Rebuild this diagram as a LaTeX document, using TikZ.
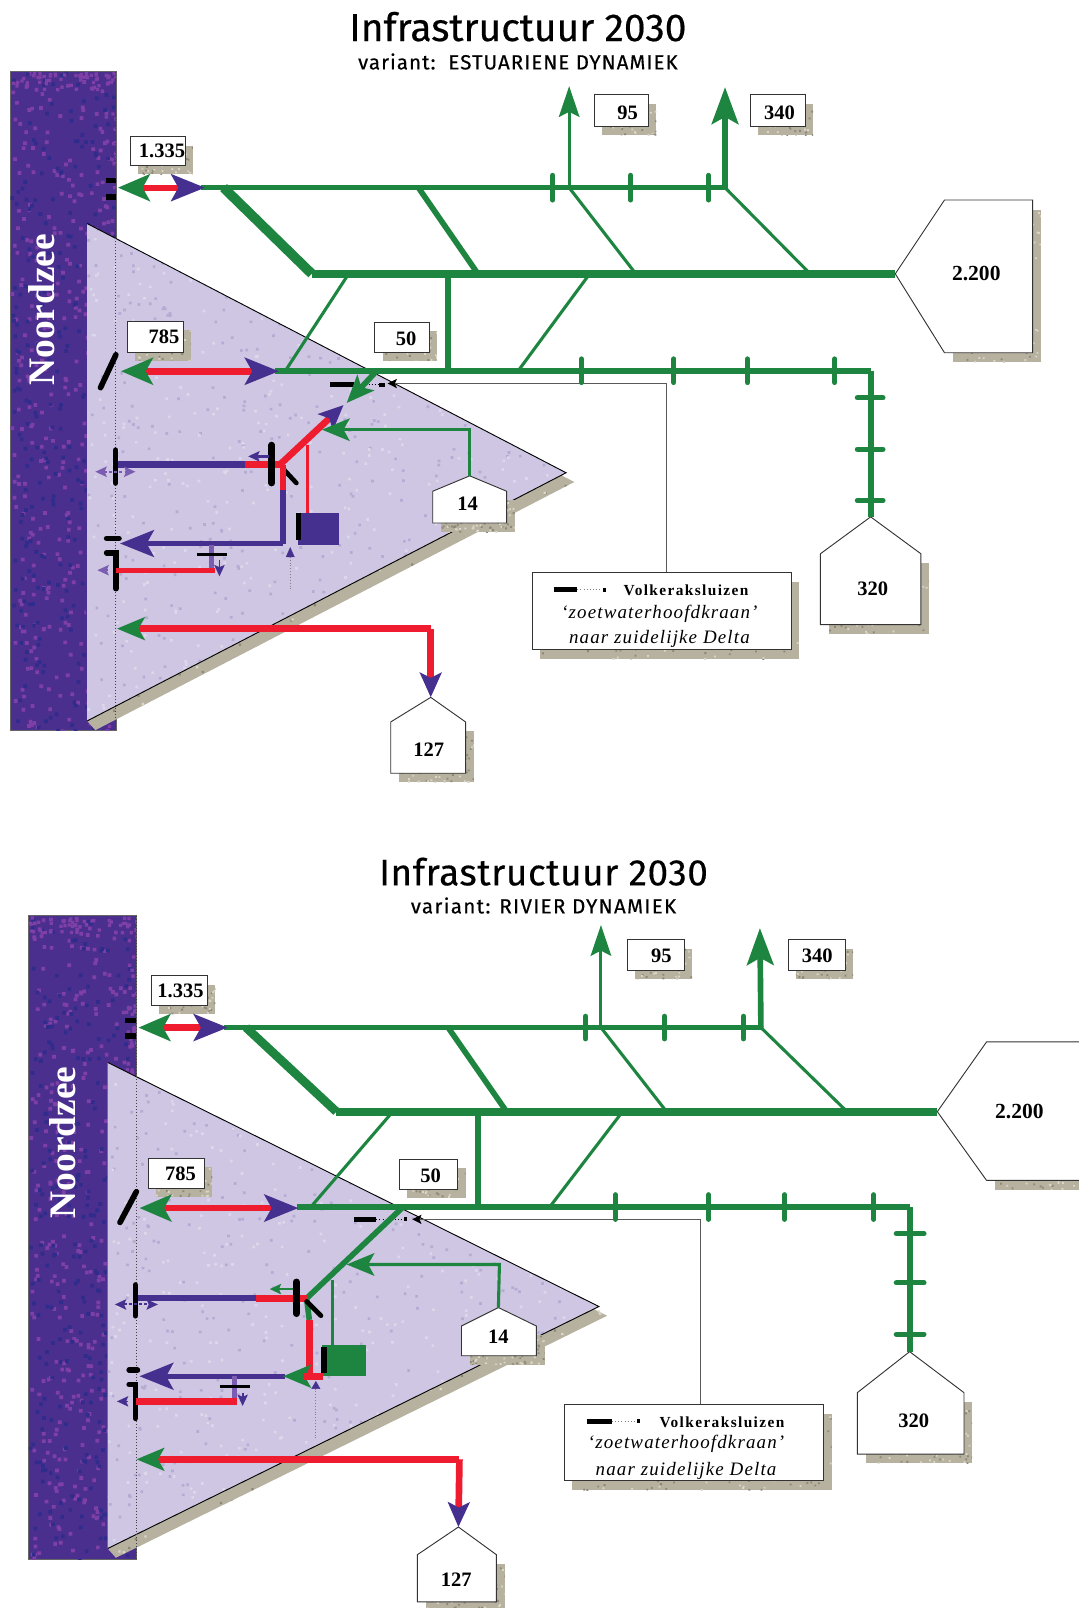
\documentclass[tikz,border=0pt]{standalone}
\usepackage{fontspec}
\setmainfont{Liberation Serif}
\newfontfamily\titlefont[FakeBold=0.35]{Fira Sans}
\usetikzlibrary{arrows.meta}
\definecolor{sg}{HTML}{1E8540}
\definecolor{sr}{HTML}{EE1C2E}
\definecolor{sb}{HTML}{46308F}
\definecolor{sl}{HTML}{7A5CB0}
\definecolor{seac}{HTML}{4B2F8E}
\definecolor{seap}{HTML}{7E3FA6}
\definecolor{sead}{HTML}{2F2C8C}
\definecolor{tri}{HTML}{CEC6E2}
\definecolor{trid}{HTML}{B5ACD4}
\definecolor{tril}{HTML}{DDD7EC}
\definecolor{shad}{HTML}{B7B1A0}
\definecolor{shadd}{HTML}{8D8876}
\definecolor{shadl}{HTML}{DAD6C8}
\tikzset{
 seabox/.style={fill=seac,draw=black!60,line width=.7pt},
 trifill/.style={fill=tri},
 triedge/.style={draw=black,line width=.9pt,line join=miter},
 shadowfill/.style={fill=shad},
 whitebox/.style={fill=white,draw=black!80,line width=.9pt,line join=miter},
 dotline/.style={draw=black!75,line width=.9pt,dotted},
 leader/.style={draw=black!65,line width=1pt},
 gxl/.style={draw=sg,line width=9.5pt},
 gl/.style={draw=sg,line width=7.5pt},
 gm/.style={draw=sg,line width=5.5pt},
 gs/.style={draw=sg,line width=3pt},
 tick/.style={draw=sg,line width=5pt,line cap=round},
 rl/.style={draw=sr,line width=6.5pt},
 rs/.style={draw=sr,line width=2.8pt},
 bl/.style={draw=sb,line width=6pt},
 bm/.style={draw=sb,line width=5pt},
 lp/.style={draw=sl,line width=5pt},
 gate/.style={draw=black,line width=5.5pt,line cap=round},
 gatethin/.style={draw=black,line width=2.8pt},
 val/.style={font=\bfseries\fontsize{20}{20}\selectfont,inner sep=0pt},
 lega/.style={font=\bfseries\fontsize{15}{15}\selectfont\addfontfeatures{LetterSpace=9},inner sep=0pt},
 legb/.style={font=\itshape\fontsize{18.5}{18.5}\selectfont\addfontfeatures{LetterSpace=6},inner sep=0pt},
 sea/.style={font=\bfseries\fontsize{36.5}{36.5}\selectfont,text=white,rotate=90,inner sep=0pt},
 ttl/.style={font=\titlefont\fontsize{38}{38}\selectfont,inner sep=0pt},
 sub/.style={font=\titlefont\fontsize{20}{20}\selectfont\addfontfeatures{LetterSpace=5},inner sep=0pt},
 GH/.tip={Stealth[length=31pt,width=26pt,inset=7pt,color=sg]},
 BH/.tip={Stealth[length=33pt,width=26pt,inset=7pt,color=sb]},
 GM/.tip={Stealth[length=27pt,width=22pt,inset=6pt,color=sg]},
 BM/.tip={Stealth[length=24pt,width=21pt,inset=5pt,color=sb]},
 UPS/.tip={Stealth[length=30pt,width=20pt,inset=5pt,color=sg]},
 UPL/.tip={Stealth[length=36pt,width=26pt,inset=7pt,color=sg]},
 SB/.tip={Stealth[length=11pt,width=10pt,inset=2pt,color=sb]},
 SL/.tip={Stealth[length=11pt,width=10pt,inset=2pt,color=sl]},
 SG/.tip={Stealth[length=11pt,width=10pt,inset=2pt,color=sg]},
 SK/.tip={Stealth[length=9pt,width=9pt,inset=2pt,color=black]},
}
% grain on the current clip: x1,y1,width,height,batches of 25 dots,colour,size
\newcommand{\grain}[7]{%
 \foreach \i in {1,...,#5}{\fill[#6] \foreach \j in {1,...,25}{({#1+rnd*(#3)},{#2+rnd*(#4)}) rectangle ++(#7,#7)};}
}
% grey shadow block with grain: x1,y1,x2,y2,batches
\newcommand{\shadblock}[5]{%
 \fill[shadowfill] (#1,#2) rectangle (#3,#4);
 \begin{scope}
 \clip (#1,#2) rectangle (#3,#4);
 \grain{#1}{#2}{(#3)-(#1)}{(#4)-(#2)}{#5}{shadd}{1.8}
 \grain{#1}{#2}{(#3)-(#1)}{(#4)-(#2)}{#5}{shadl}{1.8}
 \end{scope}
}
% value box: name, x1,y1,x2,y2
\newcommand{\valbox}[5]{%
 \shadblock{#2+8}{#3+9}{#4+8}{#5+9}{1}
 \node[whitebox,minimum width=#4pt-#2pt,minimum height=#5pt-#3pt,inner sep=0pt,anchor=north west] (#1) at (#2,#3) {};
}
% pentagon: name, apex x, apex y, xl, xr, yshoulder, ybottom
\newcommand{\pent}[7]{%
 \shadblock{#4+8}{#6+9}{#5+8}{#7+9}{2}
 \draw[whitebox] (#2,#3) -- (#5,#6) -- (#5,#7) -- (#4,#7) -- (#4,#6) -- cycle;
 \coordinate (#1) at (#2,#3);
}
% sea band: x1,y1,x2,y2
\newcommand{\seaband}[4]{%
 \draw[seabox] (#1,#2) rectangle (#3,#4);
 \begin{scope}
 \clip (#1,#2) rectangle (#3,#4);
 \grain{#1}{#2}{#3-#1}{#4-#2}{14}{seap}{3.6}
 \grain{#1}{#2}{#3-#1}{#4-#2}{11}{sead}{3.6}
 \grain{#3-12}{#2}{12}{#4-#2}{4}{seap}{3.2}
 \grain{#1}{#2}{#3-#1}{16}{2}{seap}{3.2}
 \end{scope}
}
% triangle with its shadow: ax,ay,tx,ty,bx,by
\newcommand{\deltaland}[6]{%
 \fill[shadowfill] (#1+8,#2+9) -- (#3+8,#4+9) -- (#5+8,#6+9) -- (#5,#6) -- (#3,#4) -- cycle;
 \begin{scope}
 \clip (#3,#4) -- (#3+8,#4+9) -- (#5+8,#6+9) -- (#5,#6) -- cycle;
 \grain{#5}{#4}{#3-#5+8}{#6-#4+9}{8}{shadd}{2.2}
 \grain{#5}{#4}{#3-#5+8}{#6-#4+9}{8}{shadl}{2.2}
 \end{scope}
 \fill[trifill] (#1,#2) -- (#3,#4) -- (#5,#6) -- cycle;
 \begin{scope}
 \clip (#1,#2) -- (#3,#4) -- (#5,#6) -- cycle;
 \grain{#1}{#2}{#3-#1}{#6-#2}{16}{trid}{2.6}
 \grain{#1}{#2}{#3-#1}{#6-#2}{16}{tril}{2.6}
 \end{scope}
 \draw[triedge] (#1,#2) -- (#3,#4) -- (#5,#6);
}
\begin{document}
\begin{tikzpicture}[x=1pt,y=-1pt]
\pgfmathsetseed{4242}
\useasboundingbox (0,0) rectangle (1052,1568);
\fill[white] (0,0) rectangle (1052,1568);

%% ===== TOP =====
\node[ttl] (at) at (505,26) {Infrastructuur 2030};
\node[sub] (as) at (505,60) {variant:\ \ ESTUARIENE DYNAMIEK};
\seaband{10}{70}{113}{712}
\deltaland{85}{218}{552}{461}{85}{703}
\draw[dotline] (113,70) -- (113,712);
\node[sea] (an) at (41,302) {Noordzee};

% coordinates
\coordinate (aL) at (115,183);
\coordinate (aR) at (200,183);
\coordinate (aT) at (707,183);
\coordinate (aT0) at (196,183);
\coordinate (aT1) at (218,183);
\coordinate (aT2) at (408,183);
\coordinate (aT3) at (555,183);
\coordinate (aM1) at (304,267);
\coordinate (aM2) at (466,267);
\coordinate (aM3) at (620,267);
\coordinate (aM4) at (790,267);
\coordinate (aM5) at (340,267);
\coordinate (aM6) at (575,267);
\coordinate (aM7) at (437,267);
\coordinate (aB0) at (268,362);
\coordinate (aB1) at (278,362);
\coordinate (aB2) at (505,362);
\coordinate (aB3) at (437,362);
\coordinate (aB4) at (367,362);
\coordinate (aB5) at (849,362);
\coordinate (aU1) at (555,84);
\coordinate (aU2) at (707,85);
\coordinate (aHL) at (118,362);
\coordinate (aHR) at (272,362);

% pentagons, hex and boxes
\shadblock{929}{205}{1015}{353}{3}
\draw[whitebox] (873,267) -- (921,195) -- (1007,195) -- (1007,344) -- (921,344) -- cycle;
\coordinate (aHex) at (873,267);
\node[val,font=\bfseries\fontsize{21}{21}\selectfont] (aHexT) at (952,267) {2.200};
\pent{aP320}{849}{504}{800}{898}{540}{609}
\node[val] (a320) at (851,574) {320};
\pent{aP14}{458}{464}{422}{494}{479}{510}
\node[val] (a14) at (456,491) {14};
\pent{aP127}{420}{680}{381}{454}{704}{754}
\node[val] (a127) at (418,731) {127};
\valbox{aB95}{579}{92}{632}{123}
\node[val] (a95) at (612,110) {95};
\valbox{aB340}{731}{92}{785}{123}
\node[val] (a340) at (760,110) {340};
\valbox{aB1335}{127}{133}{180}{161}
\node[val] (a1335) at (158,147) {1.335};
\valbox{aB785}{124}{313}{178}{343}
\node[val] (a785) at (160,328) {785};
\valbox{aB50}{365}{314}{418}{343}
\node[val] (a50) at (396,330) {50};

% legend
\coordinate (aLg) at (650,558);
\coordinate (aLc) at (650,374);
\coordinate (aLe) at (378,374);
\draw[leader,-{SK}] (aLg) -- (aLc) -- (aLe);
\shadblock{527}{568}{779}{643}{4}
\node[whitebox,minimum width=252pt,minimum height=75pt,inner sep=0pt,anchor=north west] (aLeg) at (519,558) {};
\draw[draw=black,line width=4.5pt] (540,575) -- (563,575);
\draw[draw=black!50,line width=1pt,dotted] (563,575) -- (587,575);
\draw[draw=black,line width=4pt] (588,575) -- (591,575);
\node[lega] (aV) at (669,576) {Volkeraksluizen};
\node[legb] (aZ) at (643,599) {‘zoetwaterhoofdkraan’};
\node[legb] (aD) at (643,623) {naar zuidelijke Delta};

% main network
\draw[gm] (aT0) -- (aT);
\draw[rl,line width=6pt,{GH}-{BH}] (aL) -- (aR);
\draw[gxl] (aT1) -- (aM1);
\draw[gm] (aT2) -- (aM2);
\draw[gs] (aT3) -- (aM3);
\draw[gs] (aT) -- (aM4);
\draw[gl] (aM1) -- (aHex);
\draw[gs] (aM5) -- (aB1);
\draw[gs] (aM6) -- (aB2);
\draw[gm] (aM7) -- (aB3);
\draw[gm] (aB0) -- (aB5);
\draw[gm,line width=6pt] (aB5) -- (aP320);
\draw[rl,{GH}-{BH}] (aHL) -- (aHR);
\draw[gs,-{UPS}] (aT3) -- (aU1);
\draw[gm,-{UPL}] (aT) -- (aU2);
% ticks
\foreach \x in {539,615,691}{\draw[tick] (\x,171) -- (\x,195);}
\foreach \x in {567,657,729,814}{\draw[tick] (\x,350) -- (\x,373);}
\foreach \y in {388,438,488}{\draw[tick] (836,\y) -- (861,\y);}
% gates at the sea
\draw[draw=black,line width=5.5pt] (103,176) -- (113,176);
\draw[draw=black,line width=5.5pt] (103,192) -- (113,192);
\draw[gate] (98,378) -- (113,346);

% inner network
\coordinate (aJ) at (273,453);
\coordinate (aV1) at (276,453);
\coordinate (aV2) at (276,478);
\coordinate (aV3) at (276,530);
\draw[draw=black,line width=4.5pt] (322,375) -- (345,375);
\draw[draw=black,line width=1pt,dotted] (345,375) -- (370,375);
\draw[draw=black,line width=4pt] (370,375) -- (375,375);
\draw[gm,-{GM}] (aB4) -- (338,393);
\draw[rl,-{BM}] (aJ) -- (335,395);
\coordinate (aGR) at (458,419);
\draw[gs,-{GM}] (aP14) -- (aGR) -- (314,419);
\draw[rs] (300,434) -- (300,501);
\draw[bl] (113,453) -- (239,453);
\draw[rl] (239,453) -- (aJ);
\draw[gate,line width=6.5pt] (265,434) -- (265,471);
\draw[draw=sb,line width=2.5pt,-{SB}] (262,445) -- (242,445);
\draw[gate,line width=4.5pt] (276,457) -- (289,471);
\draw[rl] (aV1) -- (aV2);
\draw[bl] (aV2) -- (aV3);
\fill[sb] (291,500) rectangle (331,531);
\draw[draw=black,line width=5.5pt] (291,500) -- (291,527);
\draw[bm,-{BH}] (aV3) -- (117,530);
\draw[sb,fill=sb] (279,543) -- (283,534) -- (287,543) -- cycle;
\draw[draw=black!50,line width=.8pt,dotted] (283,543) -- (283,575);
\draw[gate] (112.8,439) -- (112.8,471);
\draw[draw=sl,line width=2pt,densely dashed,{SL}-{SL}] (93,460) -- (132,460);
\draw[gate] (104,525) -- (116,525);
\draw[gate] (104,539) -- (113,539) -- (113,574);
\draw[lp] (206,531) -- (206,556);
\draw[rl,line width=5pt] (113,556) -- (210,556);
\draw[draw=sl,line width=1.6pt,-{SL}] (105,556) -- (95,556);
\draw[gatethin] (192,540.5) -- (221,540.5);
\draw[draw=sb,line width=1.8pt,-{SB}] (214,546) -- (214,562);
\coordinate (aC) at (420,613);
\draw[rl,-{GM}] (aC) -- (114,613);
\draw[rl,-{BM}] (aC) -- (aP127);

%% ===== BOTTOM =====
\node[ttl,font=\titlefont\fontsize{36}{36}\selectfont\addfontfeatures{LetterSpace=1.5}] (bt) at (530,850) {Infrastructuur 2030};
\node[sub,font=\titlefont\fontsize{20}{20}\selectfont\addfontfeatures{LetterSpace=6.5}] (bs) at (530,883) {variant: RIVIER DYNAMIEK};
\seaband{28}{893}{133}{1521}
\deltaland{105}{1036}{584}{1274}{105}{1510}
\draw[dotline] (133,893) -- (133,1521);
\node[sea] (bn) at (61,1114) {Noordzee};

\coordinate (bL) at (135,1002);
\coordinate (bR) at (222,1002);
\coordinate (bT) at (742,1002);
\coordinate (bT0) at (218,1002);
\coordinate (bT1) at (240,1002);
\coordinate (bT2) at (437,1002);
\coordinate (bT3) at (586,1002);
\coordinate (bM1) at (328,1084);
\coordinate (bM2) at (494,1084);
\coordinate (bM3) at (650,1084);
\coordinate (bM4) at (826,1084);
\coordinate (bM5) at (383,1084);
\coordinate (bM6) at (607,1084);
\coordinate (bM7) at (466,1084);
\coordinate (bB0) at (290,1177);
\coordinate (bB1) at (303,1177);
\coordinate (bB2) at (536,1177);
\coordinate (bB3) at (466,1177);
\coordinate (bB4) at (393,1177);
\coordinate (bB5) at (887,1177);
\coordinate (bU1) at (586,902);
\coordinate (bU2) at (741,905);
\coordinate (bHL) at (136,1178);
\coordinate (bHR) at (291,1178);

\shadblock{970}{1024}{1052}{1160}{3}
\fill[white] (962,1016) -- (914,1084) -- (962,1151) -- (1052,1151) -- (1052,1016) -- cycle;
\draw[whitebox,fill=none] (1053,1016) -- (962,1016) -- (914,1084) -- (962,1151) -- (1053,1151);
\coordinate (bHex) at (914,1084);
\node[val,font=\bfseries\fontsize{21}{21}\selectfont] (bHexT) at (994,1084) {2.200};
\pent{bP320}{887}{1318}{836}{940}{1358}{1418}
\node[val] (b320) at (891,1385) {320};
\pent{bP14}{486}{1275}{450}{523}{1293}{1322}
\node[val] (b14) at (486,1303) {14};
\pent{bP127}{447}{1489}{407}{484}{1516}{1562}
\node[val] (b127) at (445,1540) {127};
\valbox{bB95}{611}{916}{667}{946}
\node[val] (b95) at (645,932) {95};
\valbox{bB340}{768}{916}{824}{946}
\node[val] (b340) at (797,932) {340};
\valbox{bB1335}{147}{951}{202}{980}
\node[val] (b1335) at (176,966) {1.335};
\valbox{bB785}{144}{1129}{199}{1158}
\node[val] (b785) at (176,1145) {785};
\valbox{bB50}{389}{1130}{446}{1159}
\node[val] (b50) at (420,1147) {50};

\coordinate (bLg) at (683,1369);
\coordinate (bLc) at (683,1189);
\coordinate (bLe) at (402,1189);
\draw[leader,-{SK}] (bLg) -- (bLc) -- (bLe);
\shadblock{558}{1379}{811}{1453}{4}
\node[whitebox,minimum width=253pt,minimum height=74pt,inner sep=0pt,anchor=north west] (bLeg) at (550,1369) {};
\draw[draw=black,line width=4.5pt] (572,1386) -- (597,1386);
\draw[draw=black!50,line width=1pt,dotted] (597,1386) -- (620,1386);
\draw[draw=black,line width=4pt] (621,1386) -- (624,1386);
\node[lega] (bV) at (704,1387) {Volkeraksluizen};
\node[legb] (bZ) at (669,1408) {‘zoetwaterhoofdkraan’};
\node[legb] (bD) at (669,1434) {naar zuidelijke Delta};

\draw[gm] (bT0) -- (bT);
\draw[rl,line width=6pt,{GH}-{BH}] (bL) -- (bR);
\draw[gxl,line width=8.5pt] (bT1) -- (bM1);
\draw[gm] (bT2) -- (bM2);
\draw[gs] (bT3) -- (bM3);
\draw[gs] (bT) -- (bM4);
\draw[gl] (bM1) -- (bHex);
\draw[gs] (bM5) -- (bB1);
\draw[gs] (bM6) -- (bB2);
\draw[gm,line width=6pt] (bM7) -- (bB3);
\draw[gm,line width=6pt] (bB0) -- (bB5);
\draw[gm,line width=6pt] (bB5) -- (bP320);
\draw[rl,{GH}-{BH}] (bHL) -- (bHR);
\draw[gs,-{UPS}] (bT3) -- (bU1);
\draw[gm,-{UPL}] (bT) -- (bU2);
\foreach \x in {571,648,725}{\draw[tick] (\x,991) -- (\x,1013);}
\foreach \x in {600,691,765,852}{\draw[tick] (\x,1165) -- (\x,1189);}
\foreach \y in {1203,1251,1301}{\draw[tick] (874,\y) -- (901,\y);}
\draw[draw=black,line width=5.5pt] (122,995) -- (133,995);
\draw[draw=black,line width=5.5pt] (122,1010) -- (133,1010);
\draw[gate] (117,1192) -- (133,1162);

\coordinate (bJ) at (299,1266);
\coordinate (bV2) at (301.6,1287);
\coordinate (bV3) at (301.6,1342);
\draw[draw=black,line width=4.5pt] (345,1189) -- (367,1189);
\draw[draw=black,line width=1pt,dotted] (367,1189) -- (394,1189);
\draw[draw=black,line width=4pt] (394,1189) -- (397,1189);
\draw[gm] (bB4) -- (bJ) -- (bV2);
\coordinate (bGR) at (487,1233);
\draw[gs,-{GM}] (bP14) -- (bGR) -- (338,1233);
\draw[gs] (324,1248) -- (324,1312);
\draw[bl] (133,1266) -- (250,1266);
\draw[rl] (250,1266) -- (bJ);
\draw[gate,line width=6.5pt] (289,1250) -- (289,1281);
\draw[draw=sg,line width=2.5pt,-{SG}] (286,1257) -- (263,1257);
\draw[gate,line width=4.5pt] (299,1269) -- (313,1283);
\draw[rl] (bV2) -- (bV3);
\fill[sg] (314,1312) rectangle (357,1342);
\draw[draw=black,line width=6pt] (316,1313) -- (316,1339);
\draw[bm,-{BH}] (278,1342) -- (136,1342);
\draw[gm,-{GM}] (296,1342) -- (276,1342);
\draw[rl] (296,1342) -- (315,1342);
\draw[sb,fill=sb] (304,1354) -- (308,1347) -- (312,1354) -- cycle;
\draw[draw=black!50,line width=.8pt,dotted] (308,1354) -- (308,1404);
\draw[gate] (132,1253) -- (132,1283);
\draw[draw=sb,line width=2pt,densely dashed,{SB}-{SB}] (112,1272) -- (154,1272);
\draw[gate] (126,1336) -- (134,1336);
\draw[gate] (126,1350) -- (132,1350) -- (132,1383);
\draw[lp] (229,1342) -- (229,1367);
\draw[rl] (133,1366.5) -- (231,1366.5);
\draw[draw=sb,line width=1.6pt,-{SB}] (125,1366.5) -- (114,1366.5);
\draw[gatethin] (215,1352) -- (244,1352);
\draw[draw=sb,line width=1.8pt,-{SB}] (236.6,1358) -- (236.6,1371);
\coordinate (bC) at (448,1423);
\draw[rl,-{GM}] (bC) -- (133,1423);
\draw[rl,-{BM}] (bC) -- (bP127);
\end{tikzpicture}
\end{document}
